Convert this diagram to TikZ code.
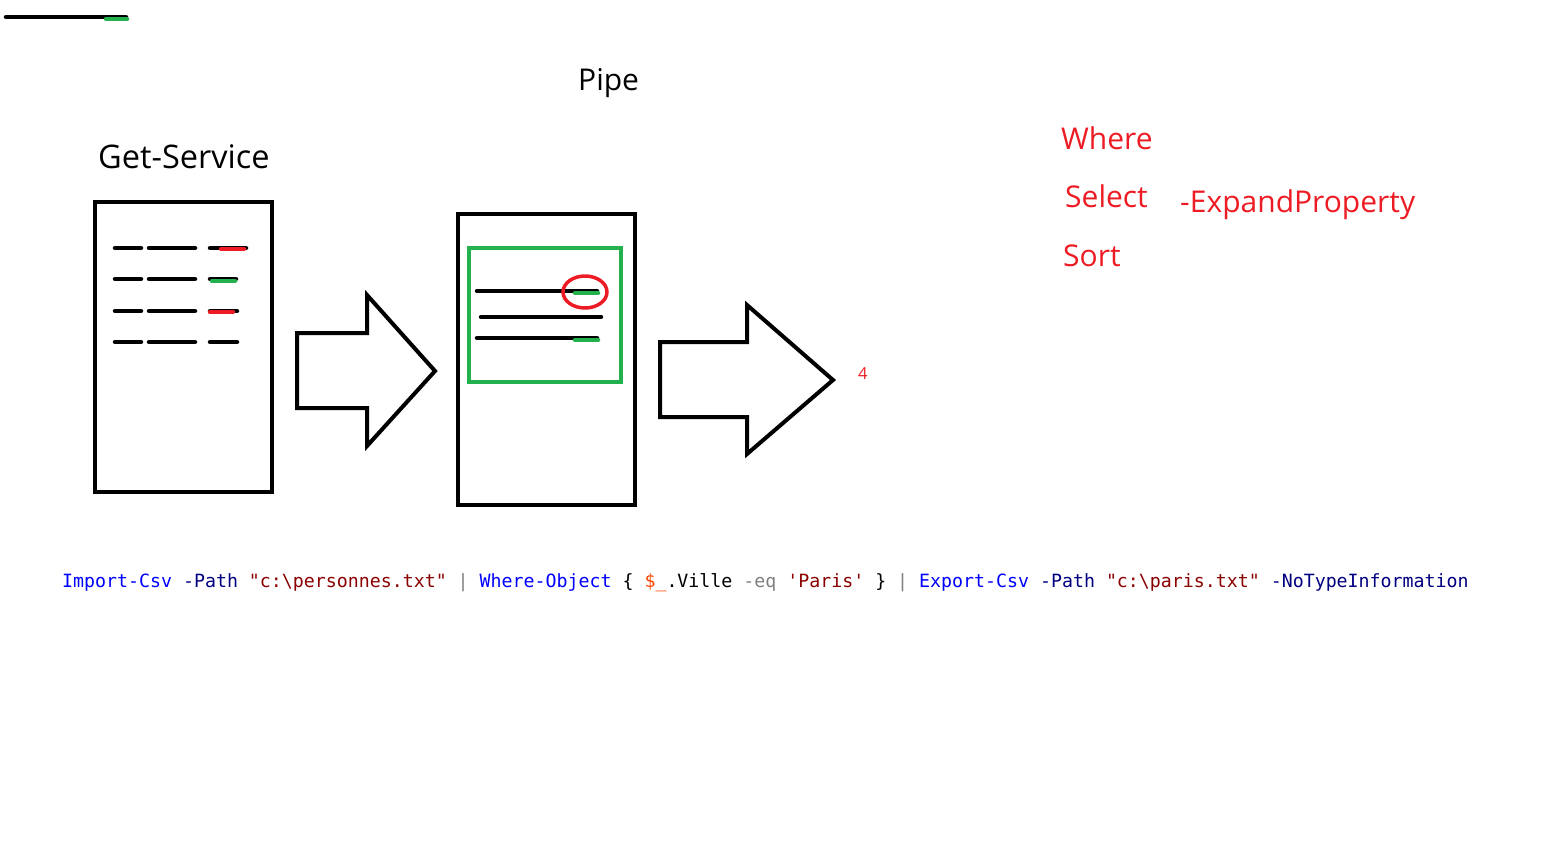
\documentclass[tikz,border=0pt]{standalone}
\usepackage{fontspec}
\setmainfont{Open Sans}
\setmonofont{DejaVu Sans Mono}
\usepackage{tikz}
\usetikzlibrary{positioning}
\definecolor{pred}{RGB}{237,28,36}
\definecolor{pgreen}{RGB}{34,177,76}
\definecolor{cmdblue}{RGB}{0,0,255}
\definecolor{parnavy}{RGB}{0,0,128}
\definecolor{strred}{RGB}{139,0,0}
\definecolor{opgrey}{RGB}{128,128,128}
\definecolor{varred}{RGB}{255,69,0}

\begin{document}
\begin{tikzpicture}[x=1pt,y=-1pt,line join=round]
		\tikzstyle{docbox}=[draw=black, line width=4pt, line join=miter]
		\tikzstyle{bigarrow}=[draw=black, line width=4pt, line join=miter]
		\tikzstyle{txtline}=[draw=black, line width=4.5pt, line cap=round]
		\tikzstyle{greenbit}=[draw=pgreen, line width=4.5pt, line cap=round]
		\tikzstyle{redbit}=[draw=pred, line width=4.5pt, line cap=round]
		\tikzstyle{title}=[inner sep=0pt, anchor=base west, font=\fontsize{30}{36}\selectfont]
		\tikzstyle{keyword}=[title, text=pred]
		\tikzstyle{codeline}=[inner sep=0pt, anchor=base west, font=\ttfamily\fontsize{18.25}{22}\selectfont]
		
		\useasboundingbox (0,0) rectangle (1541,863);
		
		\draw[txtline] (6,17) -- (126,17);
		\draw[greenbit] (106,19) -- (127,19);
		
		\node[title]   (pipe) at (578,90)   {Pipe};
		\node[title, font=\fontsize{32.5}{38}\selectfont] (get) at (98,168) {Get-Service};
		
		\draw[docbox] (95,202) rectangle (272,492);
		\foreach \y/\e in {248/246,279/236,311/237,342/237} {
			\draw[txtline] (115,\y) -- (141,\y);
			\draw[txtline] (149,\y) -- (195,\y);
			\draw[txtline] (210,\y) -- (\e,\y);
		}
		\draw[redbit]   (221,249) -- (244,249);
		\draw[greenbit] (212,281) -- (235,281);
		\draw[redbit]   (210,312) -- (233,312);
		
		\draw[bigarrow] (297,333) -- (367,333) -- (367,295) -- (435,371)
			-- (367,446) -- (367,408) -- (297,408) -- cycle;
		
		\draw[docbox] (458,214) rectangle (635,505);
		\draw[draw=pgreen, line width=4pt, line join=miter] (469,248) rectangle (621,382);
		\draw[txtline] (477,291) -- (597,291);
		\draw[txtline] (481,317) -- (601,317);
		\draw[txtline] (477,338) -- (597,338);
		\draw[greenbit] (575,293) -- (598,293);
		\draw[greenbit] (575,340) -- (598,340);
		\draw[draw=pred, line width=3.5pt] (585,292) ellipse (22pt and 16pt);
		
		\draw[bigarrow] (660,342) -- (747,342) -- (747,305) -- (833,380)
			-- (747,454) -- (747,417) -- (660,417) -- cycle;
		
		\node[inner sep=0pt, anchor=base west, text=pred, font=\fontsize{16.5}{18}\selectfont]
			(four) at (858,379) {4};
		
		\node[keyword] (where)  at (1061,149) {Where};
		\node[keyword] (select) at (1065,207) {Select};
		\node[keyword] (expand) at (1180,212) {-ExpandProperty};
		\node[keyword] (sort)   at (1063,266) {Sort};
		
		\node[codeline] (code) at (62,587) {%
			\textcolor{cmdblue}{Import-Csv} \textcolor{parnavy}{-Path} \textcolor{strred}{"c:\textbackslash personnes.txt"}
			\textcolor{opgrey}{|} \textcolor{cmdblue}{Where-Object} \{ \textcolor{varred}{\$\_}.Ville \textcolor{opgrey}{-eq}
			\textcolor{strred}{'Paris'} \} \textcolor{opgrey}{|} \textcolor{cmdblue}{Export-Csv} \textcolor{parnavy}{-Path}
			\textcolor{strred}{"c:\textbackslash paris.txt"} \textcolor{parnavy}{-NoTypeInformation}};
\end{tikzpicture}
\end{document}
